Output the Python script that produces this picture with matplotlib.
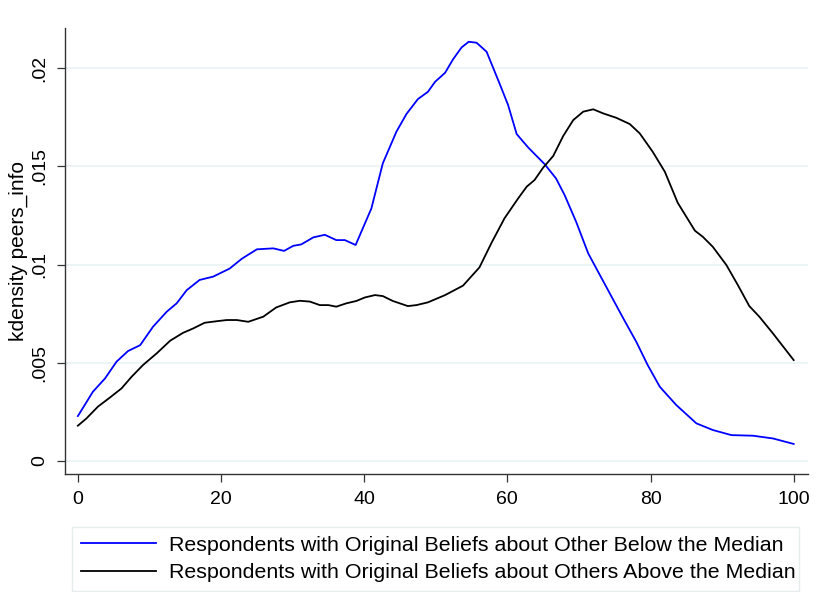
import matplotlib
matplotlib.use("Agg")
import matplotlib.pyplot as plt
import numpy as np

plt.rcParams['font.family'] = ['Liberation Sans', 'DejaVu Sans']

below_x = [0, 2.1, 3.8, 5.4, 7.0, 8.7, 10.5, 12.4, 13.8, 15.2, 17.0, 18.9, 21.2, 22.9, 25.0,
           27.3, 28.8, 30.1, 31.2, 32.9, 34.5, 36.1, 37.3, 38.8, 41.0, 42.6, 44.5, 45.9,
           47.5, 48.9, 49.9, 51.3, 52.4, 53.6, 54.6, 55.7, 57.1, 58.9, 60.1, 61.3, 62.9,
           65.2, 66.8, 68.0, 69.6, 71.3, 73.8, 76.2, 78.0, 79.6, 81.3, 83.6, 86.4, 88.7,
           91.3, 94.3, 97.1, 100]
below_y = [0.00229, 0.00353, 0.00421, 0.00506, 0.0056, 0.0059, 0.00684, 0.0076, 0.00803,
           0.0087, 0.00922, 0.00939, 0.0098, 0.0103, 0.01078, 0.01083, 0.0107, 0.01096,
           0.01103, 0.01139, 0.01152, 0.01125, 0.01125, 0.0110, 0.01286, 0.01516, 0.01677,
           0.01767, 0.01843, 0.0188, 0.01931, 0.01977, 0.02045, 0.02106, 0.02135, 0.0213,
           0.02084, 0.01923, 0.01813, 0.01665, 0.01597, 0.01512, 0.01439, 0.01354, 0.01219,
           0.01057, 0.00888, 0.00726, 0.00608, 0.00489, 0.00378, 0.00285, 0.00192, 0.00158,
           0.00132, 0.00129, 0.00115, 0.00087]

above_x = [0, 1.2, 2.8, 4.5, 6.1, 7.5, 9.1, 11.0, 12.9, 14.7, 16.1, 17.7, 19.4, 20.8, 22.2,
           23.8, 25.9, 27.7, 29.6, 31.0, 32.4, 33.8, 35.0, 36.1, 37.5, 38.9, 40.1, 41.5,
           42.6, 44.0, 46.1, 47.3, 48.9, 51.3, 53.8, 56.1, 57.8, 59.6, 61.5, 62.7, 63.8,
           65.0, 66.4, 67.8, 69.2, 70.6, 72.0, 73.4, 75.2, 77.1, 78.5, 80.3, 82.0, 83.8,
           86.2, 87.3, 88.7, 90.6, 92.2, 93.8, 95.2, 97.1, 100]
above_y = [0.0018, 0.00217, 0.00277, 0.00324, 0.0037, 0.00429, 0.00489, 0.00548, 0.00613,
           0.00653, 0.00675, 0.00704, 0.00712, 0.00718, 0.00718, 0.00709, 0.00735, 0.00782,
           0.00808, 0.00816, 0.00812, 0.00794, 0.00794, 0.00786, 0.00803, 0.00815, 0.00833,
           0.00845, 0.0084, 0.00815, 0.00789, 0.00794, 0.00808, 0.00845, 0.00893, 0.00986,
           0.01112, 0.01236, 0.01337, 0.01397, 0.01431, 0.01494, 0.01553, 0.01655, 0.01736,
           0.01779, 0.01791, 0.0177, 0.01748, 0.01716, 0.01668, 0.01575, 0.01473, 0.01315,
           0.01173, 0.01142, 0.01091, 0.00998, 0.00896, 0.00789, 0.00735, 0.0065, 0.00514]

x_ticks = [0, 20, 40, 60, 80, 100]
y_ticks = [0, 0.005, 0.01, 0.015, 0.02]
y_tick_labels = ['0', '.005', '.01', '.015', '.02']
labels = ['Respondents with Original Beliefs about Other Below the Median',
          'Respondents with Original Beliefs about Others Above the Median']
y_label = 'kdensity peers_info'

fig = plt.figure(figsize=(8.16, 5.92), dpi=100)
ax = fig.add_axes([65/816, 1-474/592, (808-65)/816, (474-28)/592])

ax.plot(below_x, below_y, color='#0000ff', lw=1.3, label=labels[0])
ax.plot(above_x, above_y, color='black', lw=1.3, label=labels[1])

ax.set_xlim(-1.8, 102)
ax.set_ylim(-0.00066, 0.02205)
ax.set_xticks(x_ticks)
ax.set_xticklabels([str(v) for v in x_ticks])
ax.set_yticks(y_ticks)
ax.set_yticklabels(y_tick_labels, rotation=90, va='center')
ax.grid(axis='y', color='#eaf2f3', lw=1.2)
ax.set_axisbelow(True)
for s in ['top', 'right']:
    ax.spines[s].set_visible(False)
for s in ['left', 'bottom']:
    ax.spines[s].set_color('#333333')
    ax.spines[s].set_linewidth(1.0)
ax.tick_params(axis='both', labelsize=14, length=6, width=0.9, color='#333333', pad=6)
ax.set_ylabel(y_label, fontsize=15)
ax.yaxis.set_label_coords(-0.050, 0.5)

leg = fig.legend(loc='lower left', bbox_to_anchor=(72/816, 1/592, 727/816, 68/592),
                 mode='expand', ncol=1, fontsize=15.4, frameon=True, fancybox=False,
                 handlelength=3.5, handletextpad=0.6, borderpad=0.42,
                 borderaxespad=0, labelspacing=0.38)
leg.get_frame().set_edgecolor('#e1e8ea')
leg.get_frame().set_linewidth(1.0)

fig.savefig('out.png', dpi=100)
